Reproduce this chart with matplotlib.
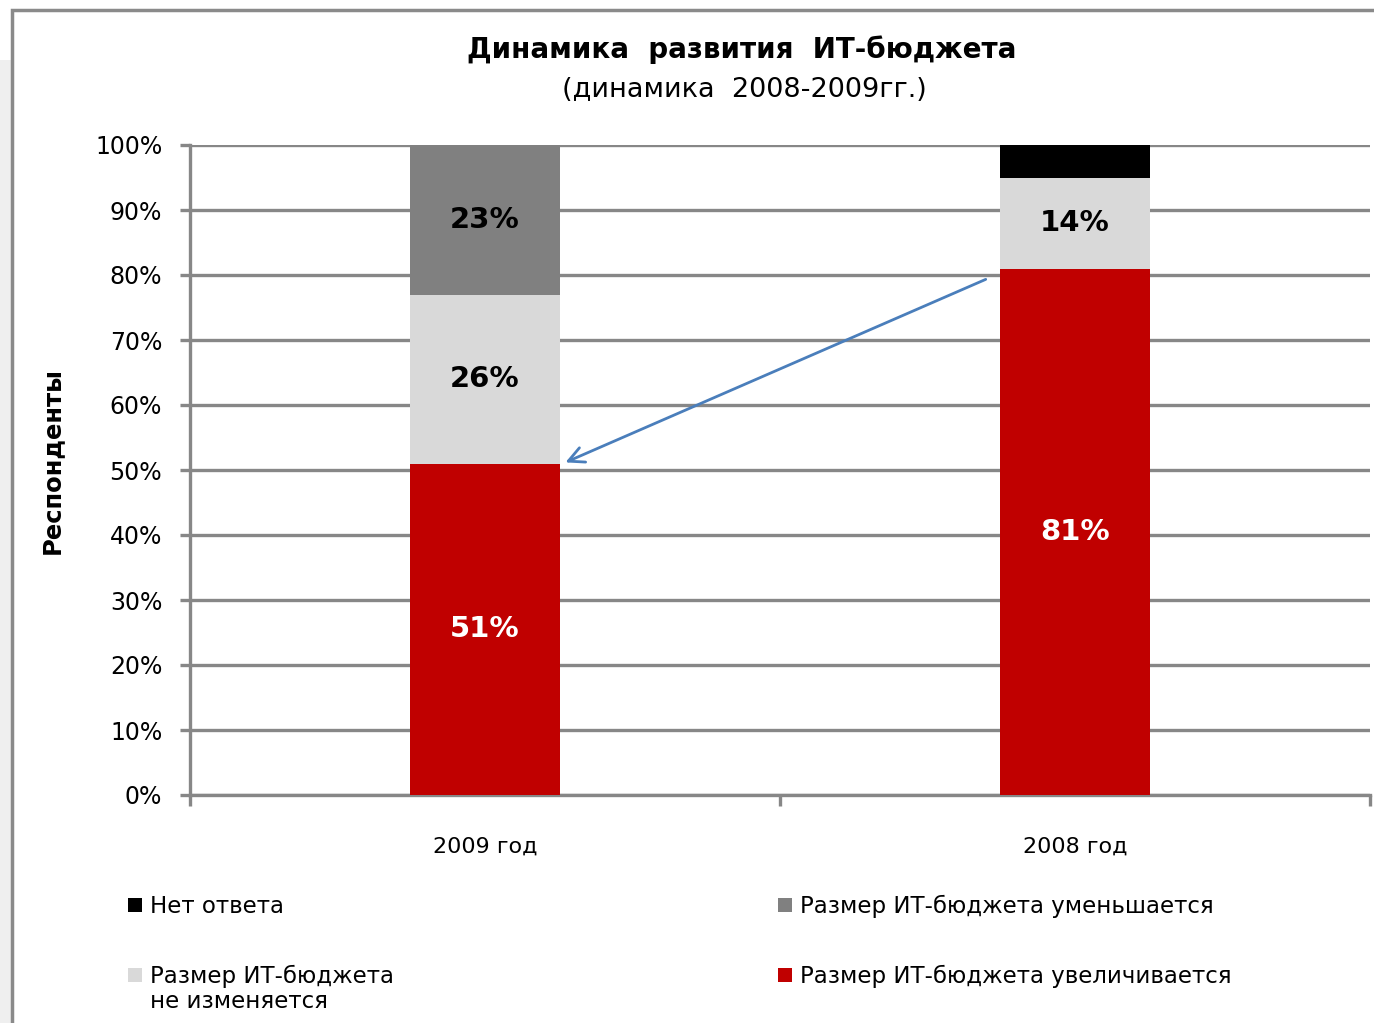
import matplotlib
matplotlib.use("Agg")
import matplotlib.pyplot as plt
from matplotlib.patches import Rectangle

# Data (percent of respondents)
years = ["2009 год", "2008 год"]
increases = [51, 81]     # Размер ИТ-бюджета увеличивается
unchanged = [26, 14]     # Размер ИТ-бюджета не изменяется
decreases = [23, 0]      # Размер ИТ-бюджета уменьшается
no_answer = [0, 5]       # Нет ответа
yticks = list(range(0, 101, 10))

c_red = "#c00000"
c_light = "#d9d9d9"
c_dark = "#808080"
c_black = "#000000"
c_grid = "#878787"

W, H = 1374, 1023
fig = plt.figure(figsize=(W / 100, H / 100), dpi=100)
fig.patch.set_facecolor("white")

# outer frame of the slide chart
fig.patches.append(Rectangle((0, 0), 12 / W, 1 - 60 / H, transform=fig.transFigure,
                             facecolor="#efefef", edgecolor="none", zorder=-2))
fig.patches.append(Rectangle((12 / W, -0.05), 1.2, 1.05 - 10 / H, transform=fig.transFigure,
                             facecolor="white", edgecolor="#8a8a8a", linewidth=2.5, zorder=-1))

ax = fig.add_axes([190 / W, 1 - 795 / H, (1370 - 190) / W, (795 - 145) / H])
ax.set_facecolor("none")
ax.set_zorder(2)

x = [0, 1]
width = 0.254
b1 = increases
b2 = [a + b for a, b in zip(b1, unchanged)]
b3 = [a + b for a, b in zip(b2, decreases)]
ax.bar(x, increases, width, color=c_red, zorder=3)
ax.bar(x, unchanged, width, bottom=b1, color=c_light, zorder=3)
ax.bar(x, decreases, width, bottom=b2, color=c_dark, zorder=3)
ax.bar(x, no_answer, width, bottom=b3, color=c_black, zorder=3)

# value labels
for i in x:
    ax.text(i, increases[i] / 2, f"{increases[i]}%", ha="center", va="center",
            color="white", fontsize=21, fontweight="bold", zorder=4)
    ax.text(i, b1[i] + unchanged[i] / 2, f"{unchanged[i]}%", ha="center", va="center",
            color="black", fontsize=21, fontweight="bold", zorder=4)
    if decreases[i]:
        ax.text(i, b2[i] + decreases[i] / 2, f"{decreases[i]}%", ha="center", va="center",
                color="black", fontsize=21, fontweight="bold", zorder=4)

# arrow from 2008 increase level to 2009 increase level
ax.annotate("", xy=(x[0] + width / 2 + 0.005, increases[0]),
            xytext=(x[1] - width / 2 - 0.02, increases[1] - 1.5),
            arrowprops=dict(arrowstyle="->", color="#4a7ebb", lw=2, mutation_scale=28),
            zorder=5)

ax.set_xlim(-0.5, 1.5)
ax.set_ylim(0, 100)
ax.set_yticks(yticks)
ax.set_yticklabels([f"{v}%" for v in yticks], fontsize=17)
ax.yaxis.grid(True, color=c_grid, linewidth=2.4, zorder=0)
ax.set_axisbelow(True)

ax.set_xticks([-0.5, 0.5, 1.5])
ax.set_xticklabels([])
ax.set_xticks(x, minor=True)
ax.set_xticklabels(years, minor=True, fontsize=16)
ax.tick_params(axis="x", which="minor", length=0, pad=30)
ax.tick_params(axis="x", which="major", length=8, width=2.4, color=c_grid)
ax.tick_params(axis="y", length=7, width=2.4, color=c_grid, pad=13)

for s in ["top", "right"]:
    ax.spines[s].set_visible(False)
for s in ["left", "bottom"]:
    ax.spines[s].set_color(c_grid)
    ax.spines[s].set_linewidth(2.4)

fig.text(742 / W, 1 - 50 / H, "Динамика  развития  ИТ-бюджета", ha="center", va="center",
         fontsize=20, fontweight="bold")
fig.text(744 / W, 1 - 90 / H, "(динамика  2008-2009гг.)", ha="center", va="center", fontsize=19.5)
fig.text(52 / W, 1 - 461 / H, "Респонденты", rotation=90, ha="center", va="center",
         fontsize=17.5, fontweight="bold")

# legend
legend_items = [
    ("Нет ответа", c_black, 128, 905),
    ("Размер ИТ-бюджета уменьшается", c_dark, 778, 905),
    ("Размер ИТ-бюджета\nне изменяется", c_light, 128, 975),
    ("Размер ИТ-бюджета увеличивается", c_red, 778, 975),
]
for label, color, px, py in legend_items:
    fig.patches.append(Rectangle((px / W, 1 - (py + 7) / H), 14 / W, 14 / H,
                                 transform=fig.transFigure, facecolor=color, edgecolor="none"))
    fig.text((px + 22) / W, 1 - (py - 10) / H, label, ha="left", va="top", fontsize=16.5,
             linespacing=1.1)

fig.savefig("out.png", dpi=100)
